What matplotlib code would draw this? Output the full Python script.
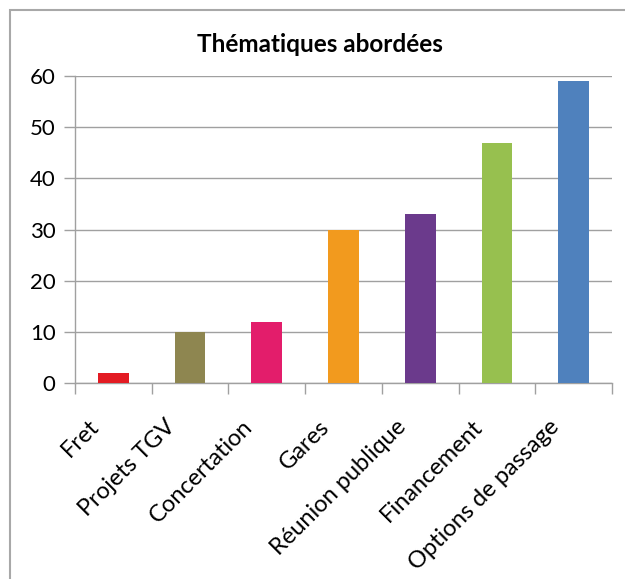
import numpy as np
import matplotlib.pyplot as plt
from matplotlib.patches import Rectangle
from matplotlib.transforms import ScaledTranslation

categories = ["Fret", "Projets TGV", "Concertation", "Gares",
              "Réunion publique", "Financement", "Options de passage"]
values = [2, 10, 12, 30, 33, 47, 59]
colors = ["#E31B23", "#8E8650", "#E31D6B", "#F29A1E",
          "#6B3A8C", "#97C04F", "#4F81BD"]
yticks = [0, 10, 20, 30, 40, 50, 60]

plt.rcParams["font.family"] = ["Lato", "DejaVu Sans"]

W, H = 625, 579
fig = plt.figure(figsize=(W / 100, H / 100), dpi=100)
ax = fig.add_axes([75 / W, 1 - 383 / H, (612 - 75) / W, (383 - 76) / H])

# outer frame of the chart
fig.patches.append(Rectangle((10 / W, -0.1), 1.2, 1 - 10 / H + 0.1,
                             transform=fig.transFigure, fill=False,
                             edgecolor="#A8A8A8", linewidth=1.5))

x = np.arange(len(categories))
ax.bar(x, values, width=0.4, color=colors, zorder=3)

ax.set_xlim(-0.5, len(categories) - 0.5)
ax.set_ylim(0, 60)
ax.set_yticks(yticks)
ax.yaxis.grid(True, color="#A0A0A0", linewidth=1.0, zorder=0)

# category labels, rotated like Excel does it
ax.set_xticks(x)
ax.set_xticklabels([])
ax.tick_params(axis="x", which="major", length=0)
off = ScaledTranslation(-25 / 100, -33 / 100, fig.dpi_scale_trans)
for xi, name in zip(x, categories):
    ax.text(xi, 0, name, rotation=45, ha="right", va="top",
            rotation_mode="anchor", fontsize=17,
            transform=ax.get_xaxis_transform() + off)

ax.set_xticks(np.arange(len(categories) + 1) - 0.5, minor=True)
ax.tick_params(axis="x", which="minor", length=8, color="#A0A0A0", width=1.0)
ax.tick_params(axis="y", length=8, color="#A0A0A0", width=1.0,
               labelsize=16, pad=6)

for s in ["top", "right"]:
    ax.spines[s].set_visible(False)
for s in ["left", "bottom"]:
    ax.spines[s].set_color("#A0A0A0")
    ax.spines[s].set_linewidth(1.0)

fig.text(320 / W, 1 - 45 / H, "Thématiques abordées",
         ha="center", va="center", fontsize=17.5, fontweight="bold")

fig.savefig("out.png", dpi=100)
